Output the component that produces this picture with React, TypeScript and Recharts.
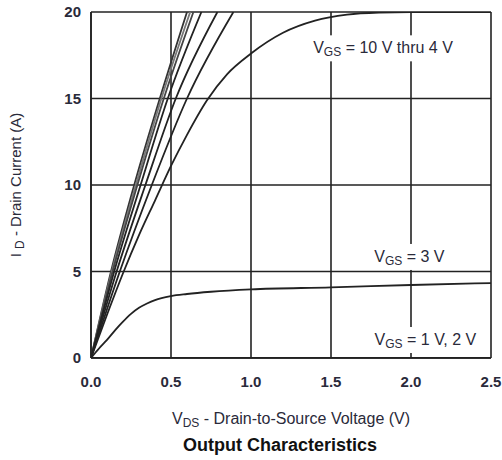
import React from 'react';
import { LineChart, Line, XAxis, YAxis, CartesianGrid, ReferenceDot } from 'recharts';

const xTicks = [0, 0.5, 1.0, 1.5, 2.0, 2.5];
const yTicks = [0, 5, 10, 15, 20];

const vgs10Vds = [0, 0.125, 0.27, 0.43, 0.6];
const vgs10Id = [0, 5, 10, 15, 20];
const vgs9Vds = [0, 0.13, 0.28, 0.44, 0.62];
const vgs9Id = [0, 5, 10, 15, 20];
const vgs8Vds = [0, 0.135, 0.29, 0.455, 0.64];
const vgs8Id = [0, 5, 10, 15, 20];
const vgs7Vds = [0, 0.145, 0.31, 0.48, 0.69];
const vgs7Id = [0, 5, 10, 15, 20];
const vgs6Vds = [0, 0.16, 0.34, 0.53, 0.79];
const vgs6Id = [0, 5, 10, 15, 20];
const vgs5Vds = [0, 0.18, 0.38, 0.6, 0.89];
const vgs5Id = [0, 5, 10, 15, 20];
const vgs4Vds = [0, 0.1, 0.2, 0.3, 0.4, 0.5, 0.6, 0.725, 0.85, 1.0, 1.2, 1.4, 1.6, 1.8, 2.0, 2.5];
const vgs4Id = [0, 2.5, 4.9, 7.1, 9.1, 11.1, 12.9, 14.9, 16.4, 17.6, 18.8, 19.5, 19.85, 19.97, 20, 20];
const vgs3Vds = [0, 0.05, 0.1, 0.15, 0.2, 0.25, 0.3, 0.35, 0.4, 0.5, 0.6, 0.75, 1.0, 1.5, 2.0, 2.5];
const vgs3Id = [0, 0.55, 1.05, 1.6, 2.1, 2.55, 2.9, 3.15, 3.35, 3.58, 3.7, 3.83, 3.97, 4.08, 4.22, 4.33];
const vgs12Vds = [0, 2.5];
const vgs12Id = [0, 0];

const zip = (xs: number[], ys: number[]) => xs.map((x, i) => ({ x, y: ys[i] }));

const series = [
  { name: '10 V', data: zip(vgs10Vds, vgs10Id), color: '#333' },
  { name: '9 V', data: zip(vgs9Vds, vgs9Id), color: '#777' },
  { name: '8 V', data: zip(vgs8Vds, vgs8Id), color: '#444' },
  { name: '7 V', data: zip(vgs7Vds, vgs7Id), color: '#222' },
  { name: '6 V', data: zip(vgs6Vds, vgs6Id), color: '#222' },
  { name: '5 V', data: zip(vgs5Vds, vgs5Id), color: '#222' },
  { name: '4 V', data: zip(vgs4Vds, vgs4Id), color: '#222' },
  { name: '3 V', data: zip(vgs3Vds, vgs3Id), color: '#222' },
  { name: '1 V, 2 V', data: zip(vgs12Vds, vgs12Id), color: '#222' },
];

const FONT = '"Liberation Sans", Arial, sans-serif';
const TXT = '#2a2a3a';

const annot = (rest: string, w: number) => (p: any) => {
  const { cx, cy } = p;
  return (
    <g>
      <rect x={cx - w / 2} y={cy - 13} width={w} height={26} fill="#fff" />
      <text x={cx} y={cy + 5} textAnchor="middle" fontFamily={FONT} fontSize={16} fill={TXT}>
        <tspan>V</tspan>
        <tspan fontSize={12} dy={3}>GS</tspan>
        <tspan dy={-3}>{rest}</tspan>
      </text>
    </g>
  );
};

const XTitle = (props: any) => {
  const { viewBox } = props;
  const cx = viewBox.x + viewBox.width / 2;
  const y = viewBox.y;
  return (
    <g>
      <text x={cx} y={y + 66} textAnchor="middle" fontFamily={FONT} fontSize={16} fill={TXT}>
        <tspan>V</tspan>
        <tspan fontSize={12} dy={3}>DS</tspan>
        <tspan dy={-3}> - Drain-to-Source Voltage (V)</tspan>
      </text>
      <text x={cx - 11} y={y + 93} textAnchor="middle" fontFamily={FONT} fontSize={18} fontWeight="bold" fill="#111">
        Output Characteristics
      </text>
    </g>
  );
};

const YTitle = (props: any) => {
  const { viewBox } = props;
  const cy = viewBox.y + viewBox.height / 2;
  const x = 21;
  return (
    <text x={x} y={cy} textAnchor="middle" fontFamily={FONT} fontSize={15} fill={TXT} transform={`rotate(-90 ${x} ${cy})`}>
      <tspan>I </tspan>
      <tspan fontSize={12} dy={3}>D</tspan>
      <tspan dy={-3}> - Drain Current (A)</tspan>
    </text>
  );
};

export default function App() {
  return (
    <div style={{ position: 'absolute', left: 0, top: 0, background: '#fff' }}>
      <LineChart width={502} height={460} margin={{ top: 12, right: 11, bottom: 72, left: 0 }}>
        <CartesianGrid stroke="#222" strokeWidth={1.6} />
        <XAxis
          type="number"
          dataKey="x"
          domain={[0, 2.5]}
          ticks={xTicks}
          height={30}
          tickFormatter={(v: number) => v.toFixed(1)}
          tickLine={false}
          axisLine={{ stroke: '#222', strokeWidth: 1.6 }}
          tick={{ fontFamily: FONT, fontSize: 15, fill: TXT, fontWeight: 'bold' }}
          tickMargin={12}
          allowDataOverflow
          label={<XTitle />}
        />
        <YAxis
          type="number"
          domain={[0, 20]}
          ticks={yTicks}
          width={91}
          tickLine={false}
          axisLine={{ stroke: '#222', strokeWidth: 1.6 }}
          tick={{ fontFamily: FONT, fontSize: 15, fill: TXT, fontWeight: 'bold' }}
          tickMargin={4}
          allowDataOverflow
          label={<YTitle />}
        />
        <ReferenceDot x={1.825} y={17.9} r={0} shape={annot(' = 10 V thru 4 V', 146)} ifOverflow="visible" />
        <ReferenceDot x={1.99} y={5.84} r={0} shape={annot(' = 3 V', 80)} ifOverflow="visible" />
        <ReferenceDot x={2.09} y={1.04} r={0} shape={annot(' = 1 V, 2 V', 112)} ifOverflow="visible" />
        {series.map((s) => (
          <Line
            key={s.name}
            data={s.data}
            dataKey="y"
            type="monotone"
            stroke={s.color}
            strokeWidth={1.8}
            dot={false}
            isAnimationActive={false}
          />
        ))}
      </LineChart>
    </div>
  );
}
